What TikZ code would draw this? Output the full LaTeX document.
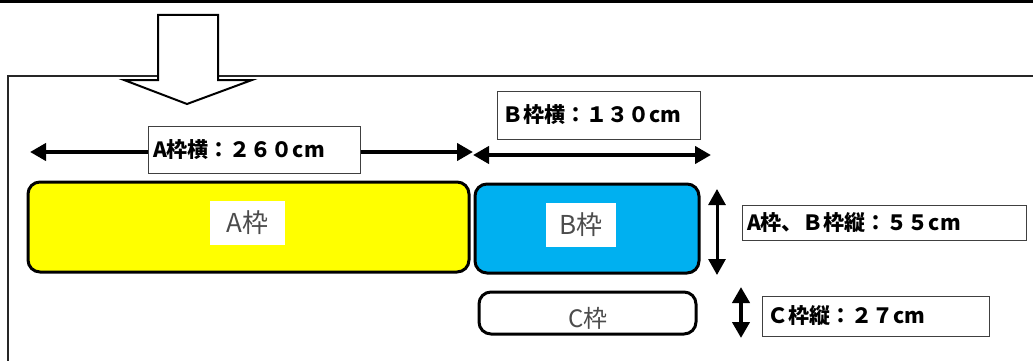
\documentclass[tikz,border=0pt]{standalone}
\usepackage{fontspec}
\setmainfont{Noto Sans CJK JP}
\usetikzlibrary{arrows.meta}

\begin{document}
\begin{tikzpicture}[x=1pt, y=-1pt,
		frame/.style={draw=black, line width=3pt, rounded corners=12pt},
		dimline/.style={line width=4pt, {Triangle[length=16pt,width=17pt]}-{Triangle[length=16pt,width=17pt]}},
		dimlabel/.style={draw=black!75, line width=1pt, fill=white, inner sep=5pt, font=\bfseries\fontsize{21}{21}\selectfont, align=left},
		boxlabel/.style={fill=white, text=black!70, font=\fontsize{26}{26}\selectfont, inner sep=0pt}]
	\useasboundingbox (0, 0) rectangle (1033, 361);

	\draw[line width=3pt] (0, 2) -- (1033, 2);
	\foreach \tx in {118, 440, 722}
		\draw[line width=2pt] (\tx, 0) -- (\tx, 2);

	\draw[black!85, line width=1.5pt] (8, 361) -- (8, 76) -- (1033, 76);

	\draw[fill=white, line width=2pt] (158, 15) -- (218, 15) -- (218, 80) -- (252, 80) -- (187, 104) -- (124, 80) -- (158, 80) -- cycle;

	\draw[frame, fill={rgb,255:red,255;green,255;blue,0}] (28, 182) rectangle (469, 272);
	\draw[frame, fill={rgb,255:red,0;green,176;blue,240}] (475, 184) rectangle (699, 273);
	\draw[frame, fill=white] (479, 292) rectangle (696, 334);

	\node[boxlabel, minimum width=75pt, minimum height=44pt] (labA) at (247.5, 223) {A枠};
	\node[boxlabel, minimum width=70pt, minimum height=44pt] (labB) at (581, 225) {B枠};
	\node[boxlabel, fill=none, font=\fontsize{24}{24}\selectfont] (labC) at (588, 318) {C枠};

	\coordinate (aw) at (30, 152);
	\coordinate (ae) at (473, 152);
	\coordinate (bw) at (473, 155);
	\coordinate (be) at (711, 155);
	\coordinate (abn) at (717, 189);
	\coordinate (abs) at (717, 275);
	\coordinate (cn) at (741, 287);
	\coordinate (cs) at (741, 338);

	\draw[dimline] (aw) -- (ae);
	\draw[dimline] (bw) -- (be);
	\draw[dimline, line width=3pt] (abn) -- (abs);
	\draw[dimline] (cn) -- (cs);

	\node[dimlabel, minimum height=47pt, text width=202pt] (dimA) at (254, 149.5) {A枠横：２６０cm};
	\node[dimlabel, minimum height=48pt, text width=193pt] (dimB) at (598.5, 115) {Ｂ枠横：１３０cm};
	\node[dimlabel, minimum height=35pt, text width=274pt] (dimAB) at (884, 222.5) {A枠、Ｂ枠縦：５５cm};
	\node[dimlabel, minimum height=40pt, text width=217pt] (dimC) at (875.5, 316) {Ｃ枠縦：２７cm};
\end{tikzpicture}
\end{document}
